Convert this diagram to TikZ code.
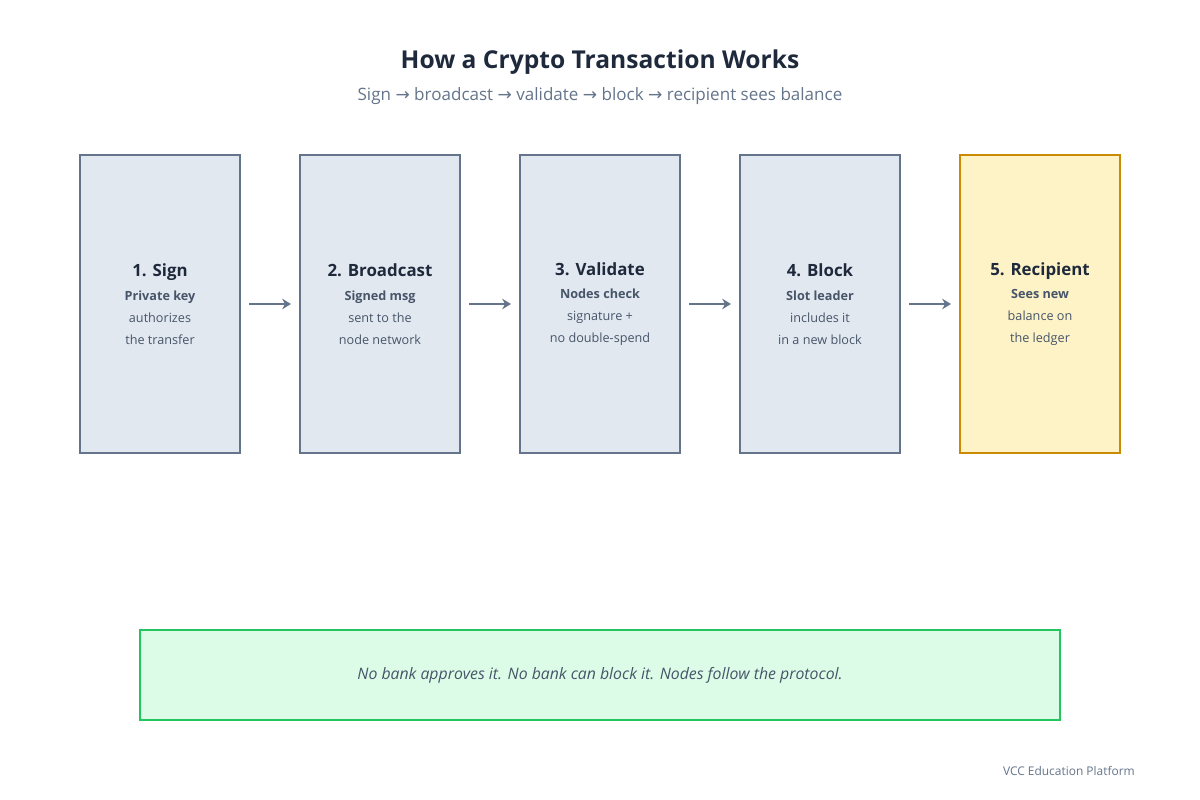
\documentclass[tikz,border=0pt]{standalone}
\usepackage{fontspec}
\setmainfont{Open Sans}
\newfontfamily\arrfont{DejaVu Sans}
\usetikzlibrary{arrows.meta}
\definecolor{boxfill}{HTML}{E2E8F0}
\definecolor{boxline}{HTML}{64748B}
\definecolor{ink}{HTML}{1E293B}
\definecolor{soft}{HTML}{475569}
\definecolor{goldfill}{HTML}{FEF3C7}
\definecolor{goldline}{HTML}{CA8A04}
\definecolor{greenfill}{HTML}{DCFCE7}
\definecolor{greenline}{HTML}{22C55E}
\newcommand{\ar}{{\arrfont\char"2192}}
\tikzset{
  stage/.style={draw=boxline, fill=boxfill, line width=1.3pt, minimum width=3.2cm,
    minimum height=5.96cm, align=center, text=soft, font=\fontsize{7.2}{12.5}\selectfont},
  last/.style={stage, draw=goldline, fill=goldfill},
  flow/.style={draw=boxline, line width=1.2pt, -{Stealth[length=5pt,width=6pt]}},
}
\newcommand{\head}[1]{{\fontsize{9.6}{14}\selectfont\bfseries\color{ink}#1}\\[1pt]}
\begin{document}
\begin{tikzpicture}[x=0.02cm, y=-0.02cm]
  \useasboundingbox (0,0) rectangle (1200,800);

  \node[text=ink, font=\fontsize{14}{16}\selectfont\bfseries] (title) at (600,62) {How a Crypto Transaction Works};
  \node[text=boxline, font=\fontsize{9.7}{12}\selectfont] (sub) at (600,96)
    {Sign \ar\ broadcast \ar\ validate \ar\ block \ar\ recipient sees balance};

  \begin{scope}
    \node[stage] (1) at (160,304) {\head{1. Sign}\textbf{Private key}\\authorizes\\the transfer};
    \node[stage] (2) at (380,304) {\head{2. Broadcast}\textbf{Signed msg}\\sent to the\\node network};
    \node[stage] (3) at (600,304) {\head{3. Validate}\textbf{Nodes check}\\signature +\\no double-spend};
    \node[stage] (4) at (820,304) {\head{4. Block}\textbf{Slot leader}\\includes it\\in a new block};
    \node[last] (5) at (1040,304) {\head{5. Recipient}\textbf{Sees new}\\balance on\\the ledger};
  \end{scope}

  \begin{scope}[shorten >=4.5pt, shorten <=4.5pt]
    \path (1) edge[flow] (2);
    \path (2) edge[flow] (3);
    \path (3) edge[flow] (4);
    \path (4) edge[flow] (5);
  \end{scope}

  \node[draw=greenline, fill=greenfill, line width=1.5pt, minimum width=18.4cm, minimum height=1.8cm,
    text=soft, font=\fontsize{9}{12}\selectfont\itshape] (note) at (600,675)
    {No bank approves it. No bank can block it. Nodes follow the protocol.};

  \node[anchor=east, text=boxline, font=\fontsize{6.8}{9}\selectfont] (foot) at (1141,771) {VCC Education Platform};
\end{tikzpicture}
\end{document}
